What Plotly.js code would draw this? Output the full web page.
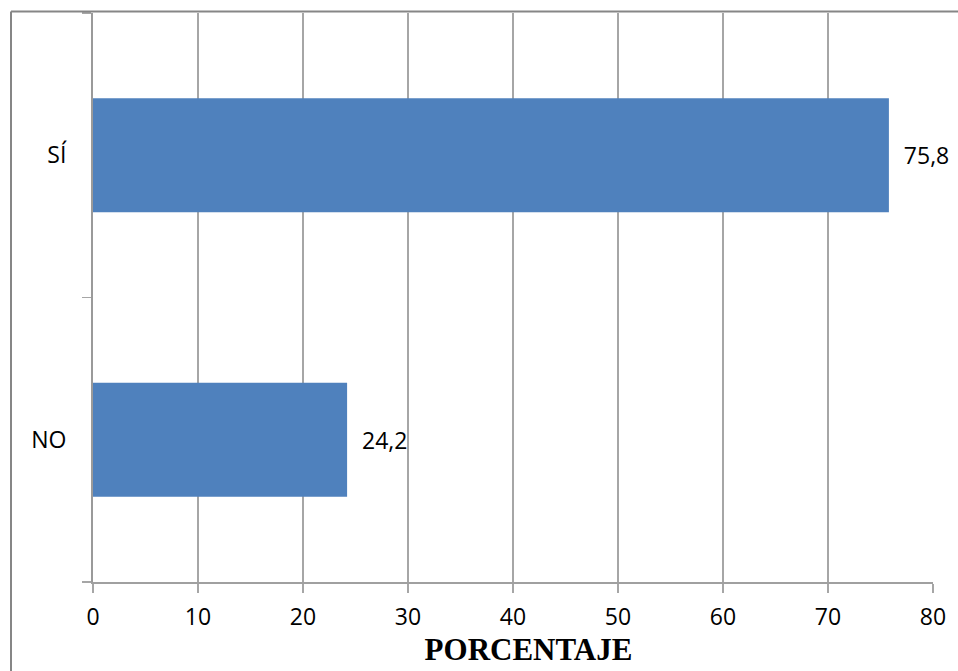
<!DOCTYPE html>
<html>
<head>
<meta charset="utf-8">
<script src="https://cdn.plot.ly/plotly-3.0.1.min.js"></script>
<style>
  html, body { margin: 0; padding: 0; background: #ffffff; }
  #chart { width: 958px; height: 671px; }
</style>
</head>
<body>
<div id="chart"></div>
<script>
// Data
var categories = ["NO", "SÍ"];
var percentages = [24.2, 75.8];
var xTickValues = [0, 10, 20, 30, 40, 50, 60, 70, 80];
var xAxisTitle = "PORCENTAJE";

var W = 958, H = 671;
var mL = 93, mR = 25, mT = 13, mB = 89;
var pw = W - mL - mR, ph = H - mT - mB;
function px2paperX(px) { return (px - mL) / pw; }
function px2paperY(py) { return 1 - (py - mT) / ph; }

var trace = {
  type: "bar",
  orientation: "h",
  y: categories,
  x: percentages,
  marker: { color: "#4F81BD", line: { width: 0 } },
  width: 0.4,
  texttemplate: "  %{x:.1f}",
  textposition: "outside",
  constraintext: "none",
  cliponaxis: false,
  textfont: { family: "Open Sans", size: 23, color: "#000000" },
  hoverinfo: "none"
};

var layout = {
  width: W,
  height: H,
  separators: ",.",
  margin: { l: mL, r: mR, t: mT, b: mB, pad: 0 },
  paper_bgcolor: "#ffffff",
  plot_bgcolor: "#ffffff",
  showlegend: false,
  font: { family: "Open Sans", size: 23, color: "#000000" },
  xaxis: {
    range: [0, 80],
    tickvals: xTickValues,
    showgrid: true,
    gridcolor: "#A6A6A6",
    gridwidth: 1.5,
    zeroline: false,
    showline: true,
    linecolor: "#A0A0A0",
    linewidth: 1.5,
    ticks: "outside",
    ticklen: 9,
    tickwidth: 1.5,
    tickcolor: "#A6A6A6",
    tickfont: { family: "Open Sans", size: 23, color: "#000000" },
    ticklabelstandoff: 5,
    title: {
      text: "&nbsp;&nbsp;&nbsp;&nbsp;" + xAxisTitle,
      font: { family: "Liberation Serif", size: 31, color: "#000000", weight: "bold" },
      standoff: 6
    },
    fixedrange: true
  },
  yaxis: {
    type: "category",
    categoryorder: "array",
    categoryarray: categories,
    range: [-0.5, 1.5],
    showgrid: false,
    zeroline: false,
    showline: true,
    linecolor: "#9A9A9A",
    linewidth: 2,
    ticks: "outside",
    tickson: "boundaries",
    ticklen: 9,
    tickwidth: 1.5,
    tickcolor: "#A6A6A6",
    tickfont: { family: "Open Sans", size: 23, color: "#000000" },
    ticklabelstandoff: 20,
    fixedrange: true
  },
  shapes: [
    { type: "line", xref: "paper", yref: "paper",
      x0: px2paperX(11), x1: px2paperX(W + 5), y0: px2paperY(11.5), y1: px2paperY(11.5),
      line: { color: "#868686", width: 2 } },
    { type: "line", xref: "paper", yref: "paper",
      x0: px2paperX(11), x1: px2paperX(11), y0: px2paperY(11.5), y1: px2paperY(H + 5),
      line: { color: "#868686", width: 2 } }
  ]
};

Plotly.newPlot("chart", [trace], layout, { staticPlot: true, displayModeBar: false });
</script>
</body>
</html>
